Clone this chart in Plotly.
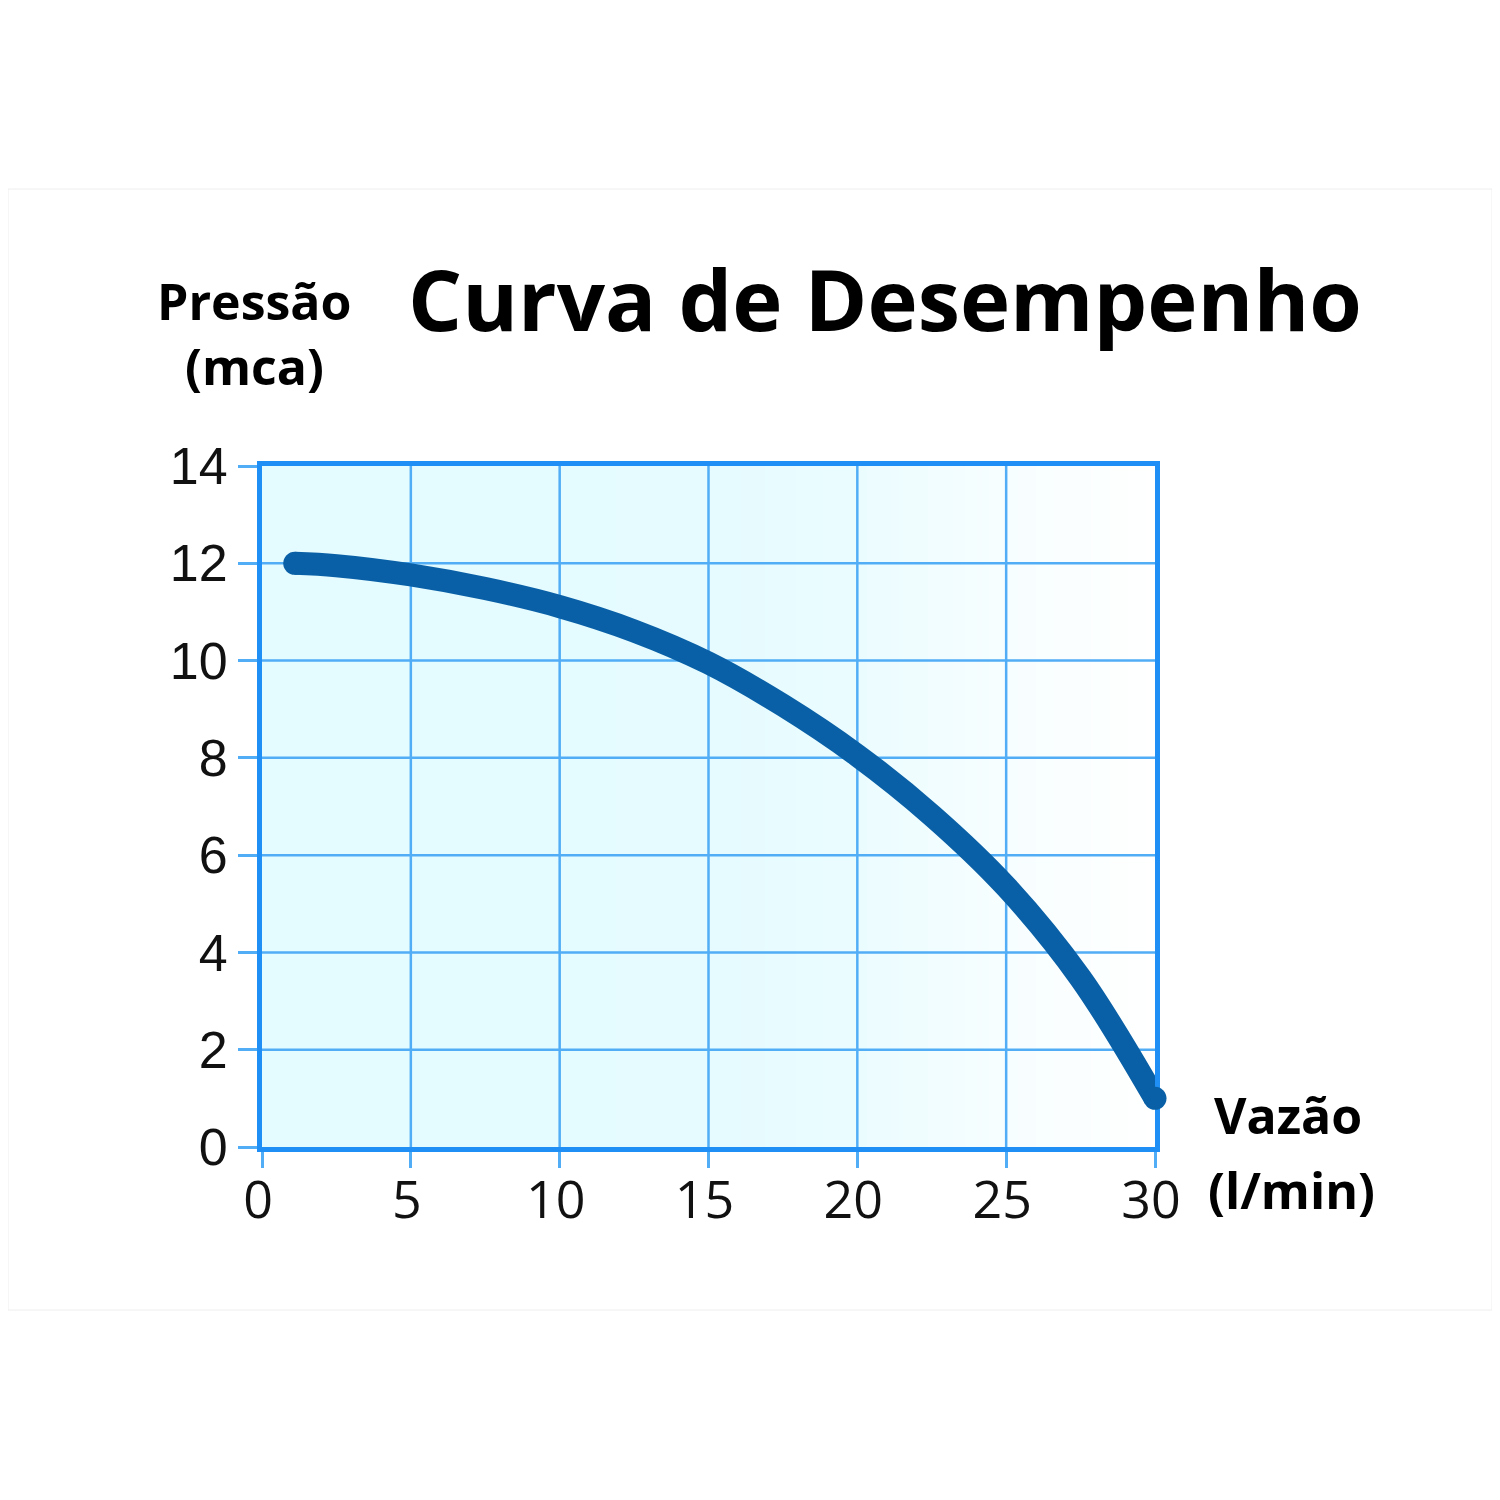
import plotly.graph_objects as go

# curve (flow l/min -> pressure mca)
vazao = [1.1, 2.5, 5, 7.5, 10, 12.5, 15, 17.5, 20, 22.5, 25, 27.5, 30]
pressao = [12.0, 11.95, 11.76, 11.48, 11.11, 10.61, 9.95, 9.08, 8.05, 6.82, 5.35, 3.47, 1.0]

x_ticks = [0, 5, 10, 15, 20, 25, 30]
y_ticks = [0, 2, 4, 6, 8, 10, 12, 14]

# background tint across the plot area (cyan fading to white on the right)
bg_x = [0, 5, 10, 15, 20, 25, 30]
bg_tint = [1.0, 1.0, 1.0, 0.95, 0.75, 0.3, 0.0]

W, H = 1500, 1500
# plot area in figure pixels (page adds an 8px body margin)
L, R, T, B = 254, 1147, 458, 1139
pw, ph = R - L, B - T
PAGE = 8


def px(x):
    return (x - PAGE - L) / pw


def py(y):
    return (B - (y - PAGE)) / ph


LINE_BLUE = "#1f8ff5"
GRID_BLUE = "#50adf6"
CURVE = "#0a60a6"

fig = go.Figure()

fig.add_trace(go.Heatmap(
    x=bg_x, y=[y_ticks[0], y_ticks[-1]], z=[bg_tint, bg_tint],
    zsmooth="best", showscale=False, hoverinfo="skip",
    colorscale=[[0, "#ffffff"], [1, "#e4fbff"]], zmin=0, zmax=1,
))

# grid drawn as lines so it sits on top of the tinted background
gx, gy = [], []
for t in x_ticks[1:-1]:
    gx += [t, t, None]
    gy += [y_ticks[0], y_ticks[-1], None]
for t in y_ticks[1:-1]:
    gx += [x_ticks[0], x_ticks[-1], None]
    gy += [t, t, None]
fig.add_trace(go.Scatter(
    x=gx, y=gy, mode="lines", line=dict(color=GRID_BLUE, width=2.5),
    hoverinfo="skip", showlegend=False,
))

fig.add_trace(go.Scatter(
    x=vazao, y=pressao, mode="lines",
    line=dict(color=CURVE, width=23, shape="spline", smoothing=1.0),
    showlegend=False,
))
# round the line ends
fig.add_trace(go.Scatter(
    x=[vazao[0], vazao[-1]], y=[pressao[0], pressao[-1]], mode="markers",
    marker=dict(color=CURVE, size=23, line=dict(width=0)),
    cliponaxis=False, showlegend=False,
))

axis_common = dict(
    showline=True, mirror=True, linecolor=LINE_BLUE, linewidth=5,
    showgrid=False, zeroline=False, layer="below traces",
    ticks="outside", tickcolor=GRID_BLUE, tickwidth=2.5,
)

fig.update_layout(
    width=W, height=H,
    margin=dict(l=L, r=W - R, t=T, b=H - B),
    paper_bgcolor="white", plot_bgcolor="white",
    showlegend=False,
    xaxis=dict(
        range=[0, 30], tickvals=x_ticks, ticklen=16,
        ticklabelstandoff=-12, ticklabelshift=-4,
        tickfont=dict(family="Open Sans", size=52, color="#111111"),
        **axis_common,
    ),
    yaxis=dict(
        range=[0, 14], tickvals=y_ticks, ticklen=19, ticklabelstandoff=0,
        tickfont=dict(family="Liberation Sans", size=52, color="#111111"),
        **axis_common,
    ),
)

bold = dict(family="Open Sans", color="black")
notes = [
    ("<b>Curva de Desempenho</b>", 885, 298, 85),
    ("<b>Pressão</b>", 254, 301, 50),
    ("<b>(mca)</b>", 254, 366, 50),
    ("<b>Vazão</b>", 1288, 1115, 50),
    ("<b>(l/min)</b>", 1291, 1190, 50),
]
for text, x, y, size in notes:
    fig.add_annotation(
        text=text, xref="paper", yref="paper", x=px(x), y=py(y),
        xanchor="center", yanchor="middle", showarrow=False,
        font=dict(size=size, **bold),
    )

# faint frame around the whole figure
fig.add_shape(
    type="rect", xref="paper", yref="paper",
    x0=px(8), x1=px(1492), y0=py(1310), y1=py(189),
    line=dict(color="#eeeeee", width=1), layer="below",
)

fig.write_html("out.html")
